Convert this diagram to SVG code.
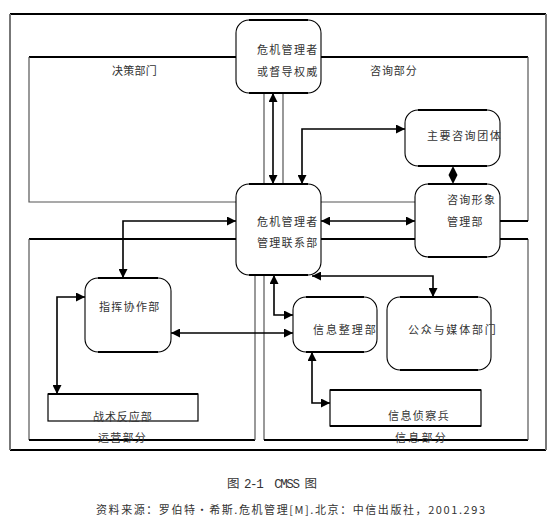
<svg xmlns="http://www.w3.org/2000/svg" width="557" height="526" viewBox="0 0 557 526">
<style>
.bx{fill:#fff;stroke:#000;stroke-width:1.1}
.tb{stroke:#000;stroke-width:2.2;fill:none}
.rc{fill:#fff;stroke:#000;stroke-width:1.2}
.thk{stroke:#000;stroke-width:2;fill:none}
.thn{stroke:#555;stroke-width:1.2;fill:none}
.gry{stroke:#777;stroke-width:2;fill:none}
.ar{stroke:#000;stroke-width:1.6;fill:none;marker-start:url(#ah);marker-end:url(#ah)}
text{font-family:"Noto Sans CJK SC","Liberation Serif",serif;font-size:11px;fill:#333;letter-spacing:1.3px}
</style>
<defs>
<marker id="ah" viewBox="0 0 10 10" refX="10" refY="5" markerWidth="9" markerHeight="9" markerUnits="userSpaceOnUse" orient="auto-start-reverse">
<path d="M0,0 L10,5 L0,10 Z" fill="#000"/>
</marker>
</defs>
<rect width="557" height="526" fill="#fff"/>

<g id="regions">
<path class="thk" d="M10,14 H546 M10,450 H546"/>
<path class="gry" d="M10,14 V450 M546,14 V450"/>
<path class="thk" d="M236,57 H29"/>
<path class="thn" d="M29,57 V202 H236"/>
<path class="thk" d="M321,57 H528"/>
<path class="thn" d="M528,57 V221"/>
<path class="thk" d="M528,221 H500"/>
<path class="thn" d="M321,202 H415"/>
<path class="thn" d="M264,93 V184 M283,93 V184"/>
<path class="thk" d="M236,239 H29"/>
<path class="thn" d="M29,239 V440"/>
<path class="thk" d="M29,440 H255"/>
<path class="thn" d="M255,275 V440"/>
<path class="thn" d="M264,275 V440"/>
<path class="thk" d="M264,440 H528"/>
<path class="thn" d="M528,239 V440"/>
<path class="thk" d="M500,239 H528 M321,239 H415"/>
</g>

<g id="connectors">
<path class="ar" d="M273,93 V184"/>
<path class="ar" d="M405,129 H302 V184"/>
<path class="ar" d="M321,221 H415"/>
<path class="ar" d="M236,221 H123 V278"/>
<path class="ar" d="M85,297 H57 V394"/>
<path class="ar" d="M171,333 H293"/>
<path class="ar" d="M312,276 H433 V297"/>
<path class="ar" d="M274,275 V315 H293"/>
<path class="ar" d="M312,352 V403 H330"/>
<polygon points="453,166 457.5,175 453,184 448.5,175" fill="#000"/>
</g>

<g id="n-top">
<rect class="bx" x="236" y="20" width="85" height="73" rx="13"/>
<path class="tb" d="M249,20 H308 M249,93 H308"/>
<text x="257" y="54">危机管理者</text>
<text x="257" y="76">或督导权威</text>
</g>

<g id="n-mid">
<rect class="bx" x="236" y="184" width="85" height="91" rx="13"/>
<path class="tb" d="M249,184 H308 M249,275 H308"/>
<text x="257" y="226">危机管理者</text>
<text x="257" y="247">管理联系部</text>
</g>

<g id="n-consult">
<rect class="bx" x="405" y="110" width="95" height="56" rx="13"/>
<path class="tb" d="M418,110 H487 M418,166 H487"/>
<text x="427" y="140" textLength="75">主要咨询团体</text>
</g>

<g id="n-image">
<rect class="bx" x="415" y="184" width="85" height="73" rx="13"/>
<path class="tb" d="M428,184 H487 M428,257 H487"/>
<text x="447" y="204">咨询形象</text>
<text x="447" y="226">管理部</text>
</g>

<g id="n-command">
<rect class="bx" x="85" y="278" width="86" height="74" rx="13"/>
<path class="tb" d="M98,278 H158 M98,352 H158"/>
<text x="99" y="311">指挥协作部</text>
</g>

<g id="n-info">
<rect class="bx" x="293" y="297" width="84" height="55" rx="13"/>
<path class="tb" d="M306,297 H364 M306,352 H364"/>
<text x="313" y="334" textLength="64">信息整理部</text>
</g>

<g id="n-media">
<rect class="bx" x="387" y="297" width="104" height="73" rx="13"/>
<path class="tb" d="M400,297 H478 M400,370 H478"/>
<text x="408" y="334" textLength="89">公众与媒体部门</text>
</g>

<g id="n-tactic">
<rect class="rc" x="48" y="394" width="150" height="27"/>
<path class="tb" d="M48,394 H198"/>
<text x="93" y="421" textLength="60">战术反应部</text>
</g>

<g id="n-scout">
<rect class="rc" x="330" y="390" width="151" height="36"/>
<path class="tb" d="M330,390 H481 M330,426 H481"/>
<text x="388" y="420" textLength="62">信息侦察兵</text>
</g>

<g id="labels">
<text x="112" y="75" textLength="46">决策部门</text>
<text x="370" y="75" textLength="48">咨询部分</text>
<text x="98" y="442" textLength="49">运营部分</text>
<text x="395" y="442" textLength="52">信息部分</text>
<text x="227" y="488" xml:space="preserve" style="font-family:'Liberation Mono','Noto Sans CJK SC',monospace;font-size:12.5px;letter-spacing:0" textLength="90">图 2-1  CMSS 图</text>
<text x="96" y="514" style="font-size:11px;letter-spacing:0" textLength="389">资料来源：罗伯特·希斯.危机管理[M].北京：中信出版社，2001.293</text>
</g>
</svg>
